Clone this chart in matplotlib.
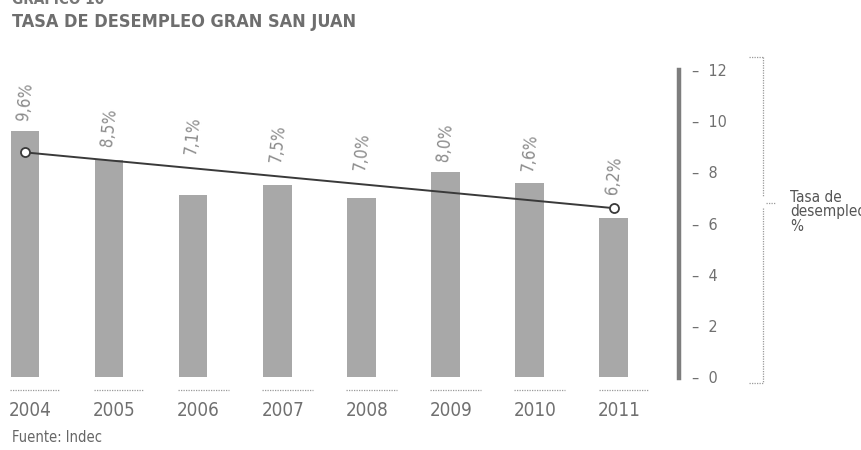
import matplotlib.pyplot as plt
from matplotlib.lines import Line2D
from matplotlib import font_manager

# data
years = ["2004", "2005", "2006", "2007", "2008", "2009", "2010", "2011"]
tasa = [9.6, 8.5, 7.1, 7.5, 7.0, 8.0, 7.6, 6.2]
labels = ["9,6%", "8,5%", "7,1%", "7,5%", "7,0%", "8,0%", "7,6%", "6,2%"]
trend = [8.78, 6.60]  # linea de tendencia, extremos 2004 y 2011
yticks = [0, 2, 4, 6, 8, 10, 12]

names = {f.name for f in font_manager.fontManager.ttflist}
if "Liberation Sans Narrow" in names:
    FONT = dict(family="Liberation Sans Narrow")
else:
    FONT = dict(family="DejaVu Sans", stretch="condensed")
W, H = 862, 450

fig = plt.figure(figsize=(W / 100, H / 100), dpi=100)

# axes: 0 at y=377px, 12 at y=70px ; right spine at x=679px
ax = fig.add_axes([0, (H - 377) / H, 679 / W, (377 - 70) / H])
step = 84.1
ax.set_xlim(-25 / step, (679 - 25) / step)
ax.set_ylim(0, 12)

x = list(range(len(years)))
ax.bar(x, tasa, width=0.34, color="#a8a8a8", zorder=2)
ax.plot([x[0], x[-1]], trend, color="#3a3a3a", lw=1.4, zorder=3,
        marker="o", ms=6.5, mfc="white", mec="#3a3a3a", mew=1.3)

n = len(x) - 1
for xi, v, lab in zip(x, tasa, labels):
    t = trend[0] + (trend[1] - trend[0]) * xi / n
    base = max(v, t + 0.1) + 0.4
    ax.text(xi, base, lab, rotation=84, ha="center", va="bottom",
            fontsize=12, color="#8a8a8a", zorder=4, **FONT)

# year labels with dotted line above
for xi, yr in zip(x, years):
    ax.plot([xi - 0.18, xi + 0.42], [-0.5, -0.5], ls=(0, (1, 1)),
            color="#9a9a9a", lw=0.9, clip_on=False)
    ax.text(xi - 0.19, -1.3, yr, ha="left", va="center", fontsize=13.5,
            color="#707070", **FONT)

for s in ["top", "left", "bottom"]:
    ax.spines[s].set_visible(False)
ax.spines["right"].set_color("#7d7d7d")
ax.spines["right"].set_linewidth(3.2)
ax.spines["right"].set_bounds(-0.04, 12)
ax.set_xticks([])
ax.yaxis.tick_right()
ax.set_yticks(yticks)
ax.set_yticklabels([f"\u2013  {t}" for t in yticks], color="#707070",
                   fontsize=11.5, **FONT)
ax.tick_params(axis="y", length=0, pad=9)

# dotted bracket on the right
def fl(x0, y0, x1, y1):
    fig.add_artist(Line2D([x0 / W, x1 / W], [1 - y0 / H, 1 - y1 / H],
                          ls=(0, (1, 1)), color="#9a9a9a", lw=0.9))

fl(763, 57, 763, 196)
fl(763, 208, 763, 383)
fl(749, 57, 763, 57)
fl(749, 383, 763, 383)
fl(766, 203, 776, 203)

fig.text(790 / W, 1 - 190 / H, "Tasa de\ndesempleo\n%", ha="left", va="top",
         fontsize=11, color="#555555", linespacing=0.95, **FONT)

# titles
fig.text(12 / W, 1.0, "GRÁFICO 10", ha="left", va="center",
         fontsize=11, color="#777777", fontweight="bold", **FONT)
fig.text(12 / W, 1 - 22 / H, "TASA DE DESEMPLEO GRAN SAN JUAN", ha="left",
         va="center", fontsize=13, color="#6e6e6e", fontweight="bold", **FONT)
fig.text(12 / W, 1 - 437 / H, "Fuente: Indec", ha="left", va="center",
         fontsize=10.5, color="#666666", **FONT)

fig.savefig("out.png", dpi=100)
